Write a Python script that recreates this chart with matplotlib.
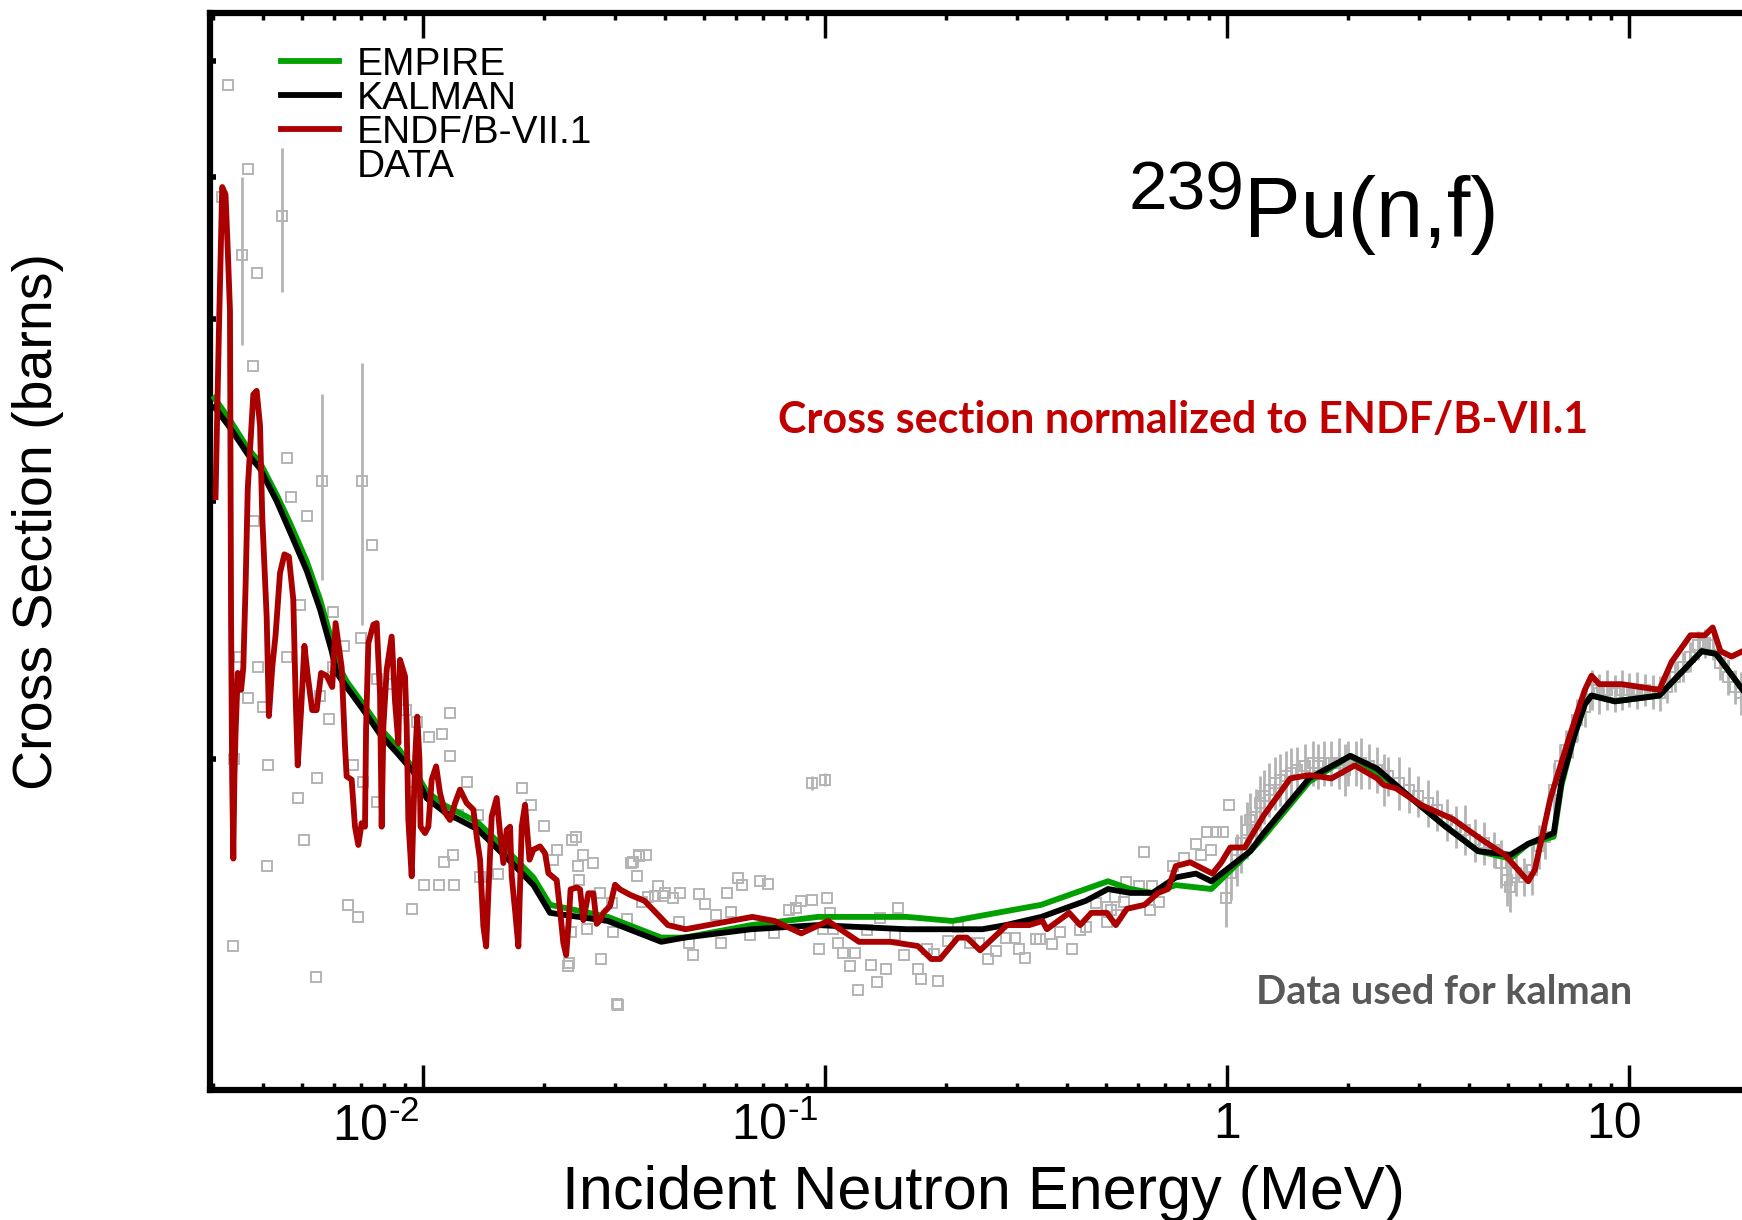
import matplotlib
matplotlib.use('Agg')
import matplotlib.pyplot as plt
from matplotlib.lines import Line2D
from matplotlib.transforms import ScaledTranslation

plt.rcParams['font.family'] = ['Liberation Sans', 'DejaVu Sans']
plt.rcParams['mathtext.fontset'] = 'custom'
plt.rcParams['mathtext.rm'] = 'Liberation Sans'
plt.rcParams['mathtext.it'] = 'Liberation Sans:italic'
plt.rcParams['mathtext.bf'] = 'Liberation Sans:bold'

# EMPIRE evaluation (MeV, barns)
empire_e = [0.00303, 0.00331, 0.00367, 0.00393, 0.00433, 0.00467, 0.00514, 0.00555,
            0.00593, 0.00610, 0.00646, 0.00711, 0.00782, 0.00861, 0.00947, 0.01022,
            0.01131, 0.01370, 0.01658, 0.01883, 0.02071, 0.02884, 0.03915, 0.04474,
            0.06557, 0.09607, 0.1599, 0.2075, 0.2678, 0.3453, 0.4456, 0.5060, 0.5747,
            0.6530, 0.7461, 0.9147, 1.143, 1.234, 1.602, 2.027, 2.362, 2.877, 3.483,
            4.215, 5.070, 5.614, 6.499, 6.796, 7.29, 7.766, 8.068, 9.225, 11.90,
            15.16, 16.46, 19.18, 20.0]
empire_xs = [3.53, 3.41, 3.26, 3.19, 3.03, 2.90, 2.73, 2.57,
             2.41, 2.33, 2.26, 2.18, 2.10, 2.04, 1.97, 1.90,
             1.86, 1.81, 1.72, 1.66, 1.59, 1.56, 1.51, 1.51,
             1.54, 1.56, 1.56, 1.55, 1.57, 1.59, 1.63, 1.65, 1.63,
             1.62, 1.64, 1.63, 1.73, 1.77, 1.93, 2.01, 1.96, 1.88, 1.80,
             1.73, 1.71, 1.75, 1.77, 1.92, 2.07, 2.18, 2.21, 2.19, 2.21,
             2.37, 2.36, 2.23, 2.20]

# KALMAN fit
kalman_e = [0.00303, 0.00331, 0.00367, 0.00393, 0.00433, 0.00467, 0.00514, 0.00555,
            0.00593, 0.00610, 0.00646, 0.00711, 0.00782, 0.00861, 0.00947, 0.01022,
            0.01131, 0.01370, 0.01658, 0.01883, 0.02071, 0.02884, 0.03915, 0.04474,
            0.06557, 0.09607, 0.1599, 0.1851, 0.2464, 0.2818, 0.3453, 0.4456, 0.5060,
            0.5747, 0.6530, 0.7461, 0.8366, 0.9147, 1.143, 1.234, 1.602, 1.774, 2.027,
            2.362, 2.877, 3.483, 4.215, 5.070, 5.614, 6.499, 6.796, 7.29, 7.766,
            8.068, 9.225, 11.90, 15.16, 16.46, 19.18, 20.0]
kalman_xs = [3.48, 3.37, 3.23, 3.16, 3.00, 2.86, 2.69, 2.53,
             2.37, 2.29, 2.24, 2.16, 2.08, 2.02, 1.96, 1.88,
             1.84, 1.79, 1.70, 1.64, 1.57, 1.55, 1.50, 1.51,
             1.53, 1.54, 1.53, 1.53, 1.53, 1.54, 1.56, 1.60, 1.63,
             1.62, 1.62, 1.66, 1.67, 1.65, 1.73, 1.78, 1.94, 1.97, 2.01,
             1.97, 1.88, 1.80, 1.73, 1.72, 1.75, 1.78, 1.93, 2.07, 2.18,
             2.21, 2.19, 2.21, 2.37, 2.36, 2.23, 2.20]

# ENDF/B-VII.1
endf_e = [3.049e-3, 3.108e-3, 3.168e-3, 3.229e-3, 3.270e-3, 3.312e-3, 3.333e-3, 3.354e-3,
          3.376e-3, 3.397e-3, 3.419e-3, 3.463e-3, 3.530e-3, 3.575e-3, 3.621e-3, 3.667e-3,
          3.714e-3, 3.786e-3, 3.859e-3, 3.934e-3, 3.984e-3, 4.035e-3, 4.087e-3, 4.139e-3,
          4.219e-3, 4.300e-3, 4.411e-3, 4.524e-3, 4.641e-3, 4.760e-3, 4.821e-3, 4.882e-3,
          4.977e-3, 5.073e-3, 5.171e-3, 5.304e-3, 5.441e-3, 5.581e-3, 5.762e-3, 5.949e-3,
          6.064e-3, 6.280e-3, 6.339e-3, 6.400e-3, 6.461e-3, 6.649e-3, 6.777e-3, 6.908e-3,
          7.041e-3, 7.177e-3, 7.223e-3, 7.316e-3, 7.529e-3, 7.674e-3, 7.823e-3, 7.897e-3,
          7.974e-3, 8.127e-3, 8.362e-3, 8.524e-3, 8.688e-3, 8.771e-3, 9.026e-3, 9.113e-3,
          9.200e-3, 9.378e-3, 9.559e-3, 9.681e-3, 9.805e-3, 9.867e-3, 1.0122e-2, 1.0317e-2,
          1.0516e-2, 1.0787e-2, 1.1030e-2, 1.1351e-2, 1.1681e-2, 1.2020e-2, 1.2369e-2,
          1.2850e-2, 1.3350e-2, 1.3608e-2, 1.3871e-2, 1.4138e-2, 1.4365e-2, 1.4549e-2,
          1.4829e-2, 1.5260e-2, 1.5554e-2, 1.5854e-2, 1.6160e-2, 1.6472e-2, 1.6630e-2,
          1.6950e-2, 1.7277e-2, 1.7610e-2, 1.7950e-2, 1.8413e-2, 1.8827e-2, 1.9561e-2,
          2.0130e-2, 2.0518e-2, 2.1516e-2, 2.1931e-2, 2.2354e-2, 2.2713e-2, 2.3004e-2,
          2.3298e-2, 2.4128e-2, 2.4593e-2, 2.5068e-2, 2.5796e-2, 2.6546e-2, 2.7058e-2,
          2.7580e-2, 2.8112e-2, 2.9207e-2, 3.0056e-2, 3.0930e-2, 3.2774e-2,
          3.5586e-2, 4.0678e-2, 4.5019e-2, 5.8076e-2, 6.5969e-2,
          7.4942e-2, 8.7349e-2, 0.10173, 0.12158, 0.14530, 0.17030, 0.18390, 0.19344,
          0.21427, 0.22542, 0.24326, 0.28355, 0.32206, 0.34756, 0.35651, 0.40490,
          0.43142, 0.45986, 0.50277, 0.52904, 0.56375, 0.62423, 0.67398, 0.71371,
          0.74622, 0.81036, 0.92055, 0.96865, 1.0193, 1.1072, 1.2341, 1.4377, 1.6018,
          1.8196, 2.0795, 2.3621, 2.4542, 2.6318, 3.0469, 3.6410, 4.3243, 4.9122,
          5.6138, 5.8323, 6.3757, 7.1046, 7.7664, 8.0684, 8.4359, 9.5826, 11.898,
          12.763, 14.221, 15.449, 16.153, 16.888, 17.994, 19.180]
endf_xs = [3.02, 3.91, 4.92, 4.86, 4.46, 4.05, 2.48, 1.94,
           1.71, 1.94, 2.08, 2.29, 2.23, 2.31, 2.62, 3.06,
           3.25, 3.55, 3.57, 3.38, 2.93, 2.71, 2.50, 2.14,
           2.31, 2.43, 2.68, 2.76, 2.75, 2.57, 2.22, 1.98,
           2.16, 2.39, 2.28, 2.16, 2.16, 2.29, 2.28, 2.24,
           2.477, 2.31, 2.173, 2.040, 1.946, 1.936, 1.798, 1.747,
           1.808, 1.798, 2.105, 2.400, 2.471, 2.477, 2.213, 1.798,
           2.105, 2.302, 2.425, 2.190, 2.050, 2.338, 2.278, 2.105,
           1.817, 1.663, 1.997, 2.138, 1.997, 1.798, 1.780, 1.798,
           1.936, 1.977, 1.896, 1.838, 1.817, 1.866, 1.906,
           1.866, 1.847, 1.770, 1.707, 1.537, 1.489, 1.619,
           1.827, 1.881, 1.780, 1.698, 1.789, 1.798, 1.663,
           1.577, 1.489, 1.798, 1.861, 1.707, 1.734, 1.743,
           1.724, 1.671, 1.653, 1.577, 1.497, 1.469, 1.537,
           1.629, 1.634, 1.629, 1.552, 1.619, 1.619, 1.543,
           1.552, 1.570, 1.587, 1.641, 1.629, 1.615,
           1.60, 1.54, 1.53, 1.55, 1.56,
           1.55, 1.52, 1.55, 1.50, 1.50, 1.49, 1.46, 1.46,
           1.51, 1.51, 1.48, 1.54, 1.54, 1.55, 1.53, 1.57,
           1.54, 1.57, 1.57, 1.54, 1.58, 1.59, 1.62, 1.63,
           1.69, 1.70, 1.67, 1.70, 1.74, 1.74, 1.83, 1.94, 1.95,
           1.94, 1.98, 1.94, 1.92, 1.91, 1.86, 1.82, 1.76, 1.72,
           1.65, 1.68, 1.88, 2.07, 2.23, 2.28, 2.25, 2.25, 2.23,
           2.33, 2.43, 2.43, 2.46, 2.37, 2.35, 2.37]

# low-energy points with large uncertainties
wide_e = [3.552e-3, 4.467e-3, 5.617e-3, 7.065e-3]
wide_xs = [4.42, 4.70, 3.10, 3.10]
wide_err = [0.58, 0.53, 0.45, 0.63]

# scattered points below 1 MeV (no visible error bar)
pts_e = [3.270e-3, 3.667e-3, 3.168e-3, 3.859e-3, 3.786e-3, 7.482e-3, 4.581e-3, 4.699e-3,
         5.137e-3, 4.945e-3, 3.810e-3, 3.485e-3, 3.884e-3, 3.667e-3, 4.009e-3, 4.581e-3,
         5.987e-3, 5.546e-3, 6.380e-3, 5.987e-3, 5.836e-3, 7.020e-3, 7.674e-3, 8.336e-3,
         9.054e-3, 9.650e-3, 1.035e-2, 1.117e-2, 1.168e-2, 1.168e-2, 9.528e-3, 1.221e-2,
         1.370e-2, 1.285e-2, 1.767e-2, 1.859e-2, 2.006e-2, 2.353e-2, 2.428e-2, 3.397e-3,
         4.882e-3, 4.113e-3, 5.072e-3, 6.713e-3, 7.110e-3, 7.674e-3, 5.441e-3, 4.087e-3,
         3.375e-3, 5.406e-3, 6.503e-3, 6.887e-3, 9.406e-3, 1.009e-2, 1.096e-2, 1.198e-2,
         1.190e-2, 1.131e-2, 1.387e-2, 1.536e-2, 2.759e-2, 3.035e-2, 2.308e-2, 2.555e-2,
         3.340e-2, 3.449e-2, 3.629e-2, 3.991e-2, 4.362e-2,
         0.02151, 0.02111, 0.02400, 0.02502, 0.02651, 0.02444, 0.03298, 0.03448, 0.03582,
         0.03404, 0.03841, 0.03768, 0.03965, 0.04185, 0.03514, 0.02959, 0.03214, 0.02336,
         0.02978, 0.02776, 0.02292, 0.03054, 0.04335, 0.04861, 0.05018, 0.05700, 0.06073,
         0.06230, 0.06900, 0.07214, 0.05847, 0.05348, 0.04591, 0.04697, 0.05502, 0.06518,
         0.07452, 0.08145, 0.08462, 0.08736, 0.09312, 0.1010, 0.1030, 0.09917, 0.1050,
         0.09668, 0.1077, 0.1112, 0.1185, 0.1155, 0.1300, 0.1416, 0.1208, 0.1346, 0.1520,
         0.1491, 0.1372, 0.1271, 0.1569, 0.1709, 0.1737, 0.1916, 0.1799, 0.1868, 0.2018,
         0.2143, 0.2298, 0.2418, 0.2544, 0.2660, 0.2828, 0.2964, 0.3140, 0.3041, 0.3345,
         0.3431, 0.3681, 0.3849, 0.4127, 0.4301, 0.4455, 0.4718, 0.5044, 0.5257, 0.5602,
         0.6029, 0.6511, 0.6203, 0.6782, 0.6446, 0.5531, 0.5161, 0.5325, 0.5028, 0.7321,
         0.8366, 0.8918, 0.9384, 0.9749, 0.7800, 0.8637, 0.9147, 1.0128]
pts_xs = [5.78, 5.06, 4.84, 4.30, 3.71, 2.80, 3.21, 3.02,
          2.93, 2.55, 2.91, 2.35, 2.31, 2.20, 2.17, 2.35,
          2.52, 2.21, 2.39, 2.31, 2.13, 2.42, 2.27, 2.25,
          2.16, 2.12, 2.07, 2.08, 2.15, 2.01, 1.90, 1.83,
          1.83, 1.93, 1.91, 1.86, 1.80, 1.76, 1.69, 2.00,
          1.88, 1.98, 1.76, 1.98, 1.93, 1.87, 1.94, 1.69,
          1.49, 1.42, 1.59, 1.56, 1.58, 1.64, 1.64, 1.64,
          1.72, 1.70, 1.66, 1.67, 1.62, 1.36, 1.45, 1.53,
          1.70, 1.72, 1.61, 1.62, 1.62,
          1.733, 1.707, 1.770, 1.720, 1.698, 1.652, 1.698, 1.716, 1.720,
          1.664, 1.637, 1.611, 1.611, 1.607, 1.598, 1.594, 1.555, 1.524,
          1.524, 1.460, 1.443, 1.357, 1.548, 1.616, 1.592, 1.619, 1.658,
          1.641, 1.651, 1.642, 1.572, 1.564, 1.497, 1.469, 1.497, 1.517,
          1.520, 1.578, 1.582, 1.600, 1.602, 1.607, 1.569, 1.531, 1.531,
          1.484, 1.497, 1.473, 1.473, 1.443, 1.447, 1.438, 1.391, 1.408, 1.582,
          1.516, 1.557, 1.529, 1.469, 1.438, 1.415, 1.411, 1.484, 1.472, 1.502,
          1.536, 1.497, 1.497, 1.460, 1.479, 1.510, 1.510, 1.463, 1.484, 1.507,
          1.507, 1.494, 1.524, 1.484, 1.529, 1.536, 1.594, 1.585, 1.609, 1.648,
          1.639, 1.639, 1.729, 1.598, 1.576, 1.598, 1.578, 1.564, 1.548, 1.689,
          1.750, 1.784, 1.784, 1.784, 1.711, 1.720, 1.734, 1.861]

# points with error bars (two near 0.1 MeV, the rest above 1 MeV)
bar_e = [0.09300, 0.1001,
         0.9937, 1.0258, 1.0590, 1.0828, 1.1185, 1.1430, 1.1800, 1.2066, 1.2341, 1.2740,
         1.3152, 1.3577, 1.4016, 1.4469, 1.4937, 1.5617, 1.6328, 1.6856, 1.7401, 1.8194,
         1.9022, 1.9637, 2.0016, 2.0928, 2.1605, 2.2590, 2.3621, 2.4620, 2.5175, 2.6832,
         2.8341, 2.9898, 3.1572, 3.3307, 3.5182, 3.7115, 3.9205, 4.1356, 4.3657, 4.6082,
         4.8183, 4.9743, 5.0701, 5.2343, 5.4729, 5.7218, 5.9827, 6.1765, 6.4992, 6.7307,
         6.9527, 7.1958, 7.4288, 7.7664, 8.0684, 8.4359, 8.8204, 9.2048, 9.6132, 10.019,
         10.476, 10.953, 11.452, 11.936, 12.441, 13.008, 13.600, 14.221, 14.812, 15.449,
         16.153, 16.888, 17.609, 18.342, 18.995]
bar_xs = [1.926, 1.936,
          1.606, 1.671, 1.707, 1.752, 1.789, 1.817, 1.827, 1.866, 1.886, 1.906,
          1.926, 1.936, 1.946, 1.956, 1.967, 1.977, 1.988, 1.977, 1.988, 1.988,
          1.988, 1.967, 1.988, 1.988, 1.988, 1.977, 1.967, 1.936, 1.946, 1.926,
          1.906, 1.886, 1.866, 1.846, 1.817, 1.798, 1.789, 1.761, 1.752, 1.734,
          1.697, 1.653, 1.636, 1.671, 1.662, 1.680, 1.743, 1.770, 1.906, 1.977,
          2.029, 2.072, 2.127, 2.172, 2.230, 2.218, 2.230, 2.218, 2.230, 2.230,
          2.230, 2.230, 2.224, 2.218, 2.241, 2.277, 2.313, 2.350, 2.393, 2.400,
          2.393, 2.325, 2.277, 2.241, 2.218]
bar_err = [0.02, 0.02,
           0.07, 0.07, 0.07, 0.08, 0.08, 0.08, 0.08, 0.08, 0.08, 0.08,
           0.08, 0.08, 0.08, 0.08, 0.07, 0.07, 0.07, 0.07, 0.07, 0.07,
           0.08, 0.08, 0.07, 0.07, 0.08, 0.07, 0.07, 0.08, 0.06, 0.08,
           0.07, 0.06, 0.07, 0.06, 0.06, 0.06, 0.07, 0.06, 0.06, 0.05,
           0.065, 0.065, 0.065, 0.06, 0.05, 0.065, 0.06, 0.06, 0.08, 0.07,
           0.065, 0.07, 0.07, 0.07, 0.07, 0.07, 0.07, 0.065, 0.07, 0.06,
           0.065, 0.055, 0.06, 0.06, 0.055, 0.055, 0.055, 0.055, 0.055, 0.055,
           0.055, 0.06, 0.065, 0.06, 0.075]

x_ticks = [1e-2, 1e-1, 1, 10]
x_ticklabels = [r'$10^{\text{-}2}$', r'$10^{\text{-}1}$', '1', '10']
y_ticks = [2, 3, 4, 5, 6]

W, H = 1742, 1220
fig = plt.figure(figsize=(W / 100, H / 100), dpi=100)
ax = fig.add_axes([210 / W, 1 - 1090 / H, (1750 - 210) / W, (1090 - 13) / H])

data_color = '#b4b4b4'
sq = dict(fmt='s', ms=7, mfc='none', mec=data_color, mew=1.4, ecolor=data_color,
          elinewidth=2.0, capsize=0, zorder=2)
ax.errorbar(wide_e, wide_xs, yerr=wide_err, **sq)
ax.errorbar(bar_e, bar_xs, yerr=bar_err, **sq)
ax.plot(pts_e, pts_xs, 's', ms=7, mfc='none', mec=data_color, mew=1.4, zorder=2)
ax.plot(empire_e, empire_xs, color='#00a000', lw=4.2, zorder=3)
ax.plot(kalman_e, kalman_xs, color='black', lw=4.2, zorder=4)
ax.plot(endf_e, endf_xs, color='#aa0000', lw=4.2, zorder=5)

ax.set_xscale('log')
ax.set_yscale('log')
ax.set_xlim(2.954e-3, 20)
ax.set_ylim(1.188, 6.47)

ax.set_xticks(x_ticks)
ax.set_xticklabels(x_ticklabels)
ax.set_yticks(y_ticks)
ax.set_yticklabels([])
ax.yaxis.set_minor_locator(matplotlib.ticker.NullLocator())

for s in ['left', 'bottom', 'top']:
    ax.spines[s].set_linewidth(4.5)
ax.spines['right'].set_visible(False)

ax.tick_params(axis='x', which='major', direction='in', length=18, width=2.5,
               top=True, bottom=True, labelsize=36, pad=9)
ax.tick_params(axis='x', which='minor', direction='in', length=5, width=2.5,
               top=True, bottom=True)
ax.tick_params(axis='y', which='major', direction='in', length=4, width=4,
               left=True, right=False)

# tick labels sit a little left of their ticks
for lab, dx in zip(ax.get_xticklabels(), [-47, -50, 0, -15]):
    lab.set_transform(lab.get_transform() + ScaledTranslation(dx / 100, 0, fig.dpi_scale_trans))

ax.set_xlabel('Incident Neutron Energy (MeV)', fontsize=44)
ax.xaxis.set_label_coords((983 - 210) / 1540, (1090 - 1194) / 1077)
ax.xaxis.label.set_va('center')
ax.set_ylabel('Cross Section (barns)', fontsize=40)
ax.yaxis.set_label_coords((38 - 210) / 1540, (1090 - 522) / 1077)
ax.yaxis.label.set_va('center')

handles = [Line2D([], [], color='#00a000', lw=4.2),
           Line2D([], [], color='black', lw=4.2),
           Line2D([], [], color='#aa0000', lw=4.2),
           Line2D([], [], ls='none')]
ax.legend(handles, ['EMPIRE', 'KALMAN', 'ENDF/B-VII.1', 'DATA'], loc='upper left',
          bbox_to_anchor=(281 / W, 1 - 47 / H), bbox_transform=fig.transFigure,
          frameon=False, fontsize=28, handlelength=1.5, handletextpad=0.45,
          labelspacing=-0.05, borderpad=0, borderaxespad=0)

fig.text(1128 / W, 1 - 209 / H, '239', fontsize=50, va='baseline', ha='left')
fig.text(1244 / W, 1 - 237 / H, 'Pu(n,f)', fontsize=61, va='baseline', ha='left')
fig.text(1183 / W, 1 - 420 / H, 'Cross section normalized to ENDF/B-VII.1',
         fontsize=31, color='#c00000', fontweight='bold', family='Lato',
         ha='center', va='center')
fig.text(1444 / W, 1 - 992 / H, 'Data used for kalman', fontsize=28.5, color='#595959',
         fontweight='bold', family='Lato', ha='center', va='center')

fig.savefig('out.png', dpi=100)
